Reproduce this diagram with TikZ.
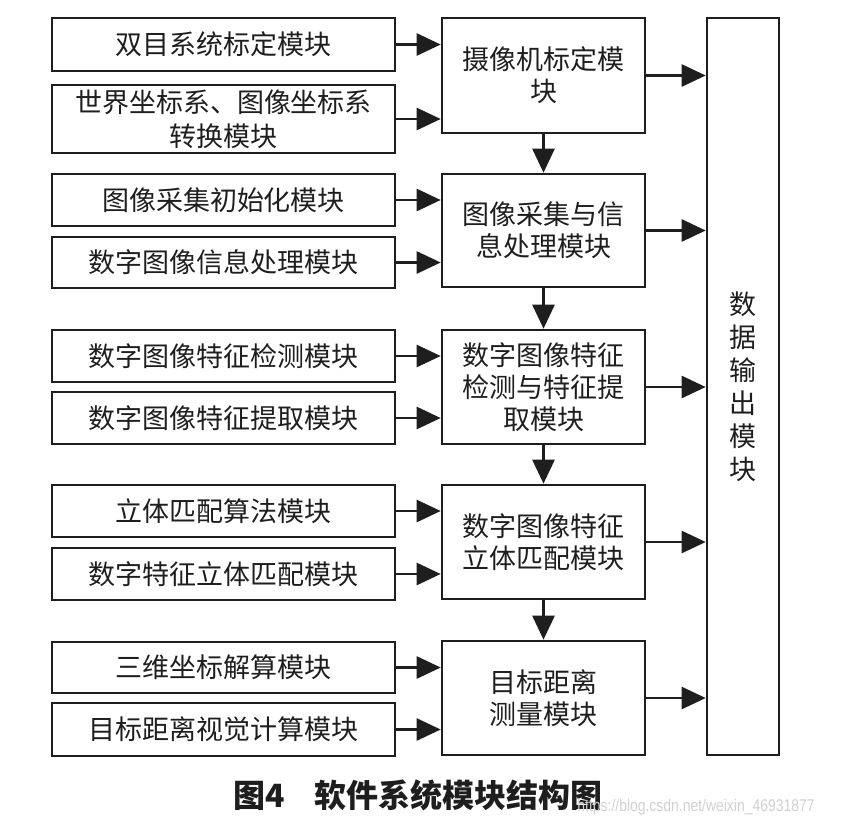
\documentclass[tikz,border=0pt]{standalone}
\usepackage{fontspec}
\setmainfont{Noto Sans CJK SC}
\newfontfamily\wmfont{Liberation Sans}
\usetikzlibrary{arrows.meta}
\definecolor{ink}{HTML}{1E1E1E}
\begin{document}
\begin{tikzpicture}[x=1pt,y=-1pt,
  every node/.style={text=ink},
  box/.style={draw=ink,line width=2.6pt,inner sep=0pt,align=center,
    font=\fontsize{27}{32}\selectfont},
  lbox/.style={box,minimum width=343pt},
  mbox/.style={box,minimum width=203pt,minimum height=114pt},
  conn/.style={draw=ink,line width=2.6pt,-{Triangle[length=24pt,width=22pt]}}]
\useasboundingbox (0,0) rectangle (844,828);
% left boxes
\node[lbox,minimum height=53pt] (a1) at (223.5,44.5) {双目系统标定模块};
\node[lbox,minimum height=68pt] (a2) at (223.5,119) {世界坐标系、图像坐标系\\[2pt]转换模块};
\node[lbox,minimum height=52pt] (b1) at (223.5,200) {图像采集初始化模块};
\node[lbox,minimum height=51pt] (b2) at (223.5,262.5) {数字图像信息处理模块};
\node[lbox,minimum height=52pt] (c1) at (223.5,356) {数字图像特征检测模块};
\node[lbox,minimum height=52pt] (c2) at (223.5,418) {数字图像特征提取模块};
\node[lbox,minimum height=52pt] (d1) at (223.5,511) {立体匹配算法模块};
\node[lbox,minimum height=52pt] (d2) at (223.5,574) {数字特征立体匹配模块};
\node[lbox,minimum height=51pt] (e1) at (223.5,667.5) {三维坐标解算模块};
\node[lbox,minimum height=53pt] (e2) at (223.5,729.5) {目标距离视觉计算模块};
% middle boxes
\node[mbox,minimum height=115pt] (ma) at (543.5,75.5) {摄像机标定模\\块};
\node[mbox,minimum height=113pt] (mb) at (543.5,230.5) {图像采集与信\\息处理模块};
\node[mbox] (mc) at (543.5,387) {数字图像特征\\检测与特征提\\取模块};
\node[mbox] (md) at (543.5,542) {数字图像特征\\立体匹配模块};
\node[mbox] (me) at (543.5,698) {目标距离\\测量模块};
% right box
\node[box,minimum width=72pt,minimum height=737pt,font=\fontsize{27}{33}\selectfont] (r) at (743,386.5) {数\\据\\输\\出\\模\\块};
% connectors left -> middle
\foreach \l/\m in {a1/ma,a2/ma,b1/mb,b2/mb,c1/mc,c2/mc,d1/md,d2/md,e1/me,e2/me}
  \draw[conn] (\l.east) -- (\l.east -| \m.west);
% middle -> right
\foreach \m in {ma,mb,mc,md,me}
  \draw[conn] (\m.east) -- (\m.east -| r.west);
% vertical
\draw[conn] (ma.south) -- (mb.north);
\draw[conn] (mb.south) -- (mc.north);
\draw[conn] (mc.south) -- (md.north);
\draw[conn] (md.south) -- (me.north);
% caption
\node[font=\fontsize{32}{34}\selectfont\bfseries] (cap) at (418,795) {图4\hspace{0.9em}软件系统模块结构图};
\node[font=\wmfont\fontsize{17}{18}\selectfont,text=black!18,xscale=0.82] (wm) at (696,807) {https://blog.csdn.net/weixin\_46931877};
\end{tikzpicture}
\end{document}
